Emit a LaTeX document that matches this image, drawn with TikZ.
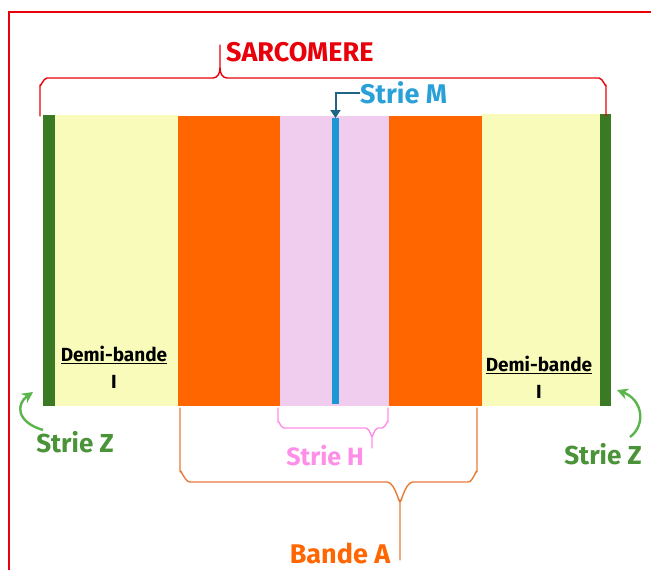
\documentclass[tikz,border=0pt]{standalone}
\usepackage{fontspec}
\setmainfont{Fira Sans}
\usetikzlibrary{arrows.meta}
\definecolor{zgreen}{HTML}{3B7A25}
\definecolor{iyellow}{HTML}{F8FBB9}
\definecolor{aorange}{HTML}{FF6600}
\definecolor{hpink}{HTML}{F0CDEE}
\definecolor{mblue}{HTML}{1B98D4}
\definecolor{sred}{HTML}{E8000B}
\definecolor{mtext}{HTML}{2AA0D8}
\definecolor{marrow}{HTML}{1F6585}
\definecolor{ztext}{HTML}{4A9338}
\definecolor{zarrow}{HTML}{5AB54A}
\definecolor{hbrace}{HTML}{FF8EE8}
\definecolor{abrace}{HTML}{E87A3A}
\tikzset{
  band/.style={inner sep=0pt, outer sep=0pt, draw=none},
  lbl/.style={inner sep=0pt},
  brace/.style={line width=1.4pt, line cap=round, line join=round},
  zarr/.style={zarrow, line width=2.4pt, -{Stealth[length=11pt,width=11pt]}},
}
\begin{document}
\begin{tikzpicture}[x=1pt,y=-1pt]
\useasboundingbox (0,0) rectangle (651,570);
\fill[white] (0,0) rectangle (651,570);
% red frame
\draw[sred, line width=1.5pt] (9,570) -- (9,12) -- (651,12);
% bands
\fill[iyellow] (55,115) rectangle (178,406);
\fill[iyellow] (482,114) rectangle (600,406);
\fill[aorange] (178,116) rectangle (280,406);
\fill[aorange] (389,116) rectangle (482,406);
\fill[hpink] (280,116) rectangle (389,406);
\node[band, fill=zgreen, minimum width=12pt, minimum height=291pt] (zl) at (49,260.5) {};
\node[band, fill=zgreen, minimum width=11pt, minimum height=292pt] (zr) at (605.5,260) {};
\node[band, fill=mblue, minimum width=7pt, minimum height=286pt] (m) at (335.5,261) {};
% sarcomere brace
\draw[brace, sred] (40,116) -- (40,85) to[out=-90,in=180] (47,78) -- (213,78) to[out=0,in=-90] (220,68) -- (220,45);
\draw[brace, sred] (220,68) to[out=-90,in=180] (227,78) -- (599,78) to[out=0,in=-90] (606,85) -- (606,116);
\node[lbl, sred, anchor=west, font=\fontsize{27}{27}\selectfont\bfseries] (sarc) at (226,52) {SARCOMERE};
% strie M
\node[lbl, mtext, anchor=west, font=\fontsize{27}{27}\selectfont\bfseries] (mlab) at (360,93) {Strie M};
\draw[marrow, line width=2pt, -{Triangle[length=8pt,width=10pt]}] (mlab.west) -| (m.north);
% demi-bande I
\node[align=center, inner sep=0pt, font=\fontsize{19}{27}\selectfont\bfseries] (dl) at (114,367) {\underline{Demi-bande}\\I};
\node[align=center, inner sep=0pt, font=\fontsize{19}{27}\selectfont\bfseries] (dr) at (539,377) {\underline{Demi-bande}\\I};
% strie Z
\node[lbl, ztext, font=\fontsize{26}{26}\selectfont\bfseries] (zll) at (75,442) {Strie Z};
\node[lbl, ztext, font=\fontsize{26}{26}\selectfont\bfseries] (zrl) at (603,454) {Strie Z};
\coordinate (zlt) at (43,430);
\coordinate (zrt) at (630,437);
\draw[zarr] (zlt) .. controls (16,422) and (16,404) .. (33,392);
\draw[zarr] (zrt) .. controls (646,425) and (643,400) .. (617,390);
% strie H brace
\draw[brace, hbrace] (278,408) -- (278,422) to[out=90,in=180] (284,428) -- (366,428) to[out=0,in=-90] (372,436) -- (372,448);
\draw[brace, hbrace] (372,436) to[out=-90,in=180] (378,428) -- (382,428) to[out=0,in=90] (388,422) -- (388,408);
\node[lbl, hbrace, font=\fontsize{25}{25}\selectfont\bfseries] (hlab) at (325,456) {Strie H};
% bande A brace
\draw[brace, abrace] (180,408) -- (180,472) to[out=90,in=180] (190,482) -- (387,482) to[out=0,in=-90] (400,500) -- (400,560);
\draw[brace, abrace] (400,500) to[out=-90,in=180] (413,482) -- (468,482) to[out=0,in=90] (477,472) -- (477,408);
\node[lbl, aorange, font=\fontsize{27}{27}\selectfont\bfseries] (alab) at (340,553) {Bande A};
\end{tikzpicture}
\end{document}
